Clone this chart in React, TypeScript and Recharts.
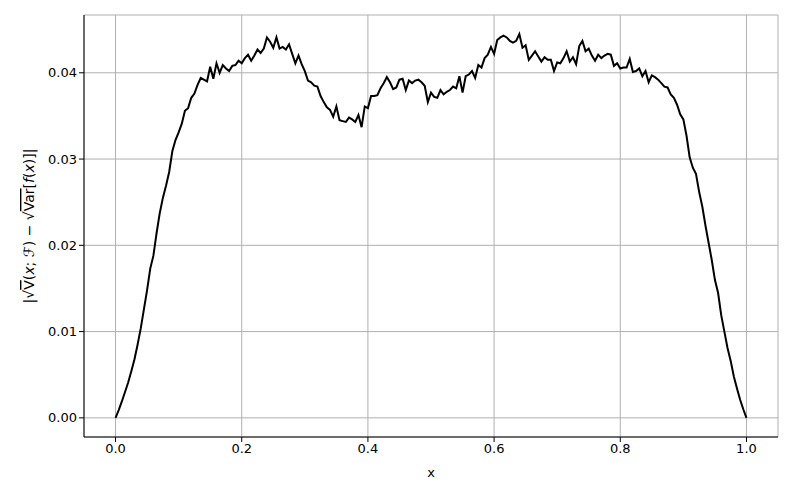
import React from "react";
import {
  LineChart,
  Line,
  XAxis,
  YAxis,
  CartesianGrid,
} from "recharts";

// x sampled every 0.005 from 0 to 1
const xValues: number[] = Array.from({ length: 201 }, (_, i) => +(i * 0.005).toFixed(3));

const gapValues: number[] = [
  0, 0.0009, 0.0019, 0.003, 0.0041, 0.0054, 0.0068, 0.0085, 0.0104, 0.0126,
  0.0148, 0.0173, 0.0188, 0.0214, 0.0237, 0.0255, 0.0269, 0.0285, 0.0309, 0.0322,
  0.0331, 0.0341, 0.0356, 0.0359, 0.0371, 0.0376, 0.0386, 0.0394, 0.0392, 0.039,
  0.0407, 0.0393, 0.0411, 0.04, 0.0409, 0.0405, 0.0402, 0.0408, 0.0409, 0.0414,
  0.0411, 0.0417, 0.0421, 0.0414, 0.042, 0.0427, 0.0423, 0.0428, 0.0441, 0.0436,
  0.0429, 0.0441, 0.0428, 0.043, 0.0427, 0.0433, 0.0422, 0.0411, 0.042, 0.041,
  0.0402, 0.0391, 0.0389, 0.0385, 0.0384, 0.0373, 0.0366, 0.036, 0.0357, 0.0349,
  0.0361, 0.0345, 0.0344, 0.0343, 0.0348, 0.0346, 0.0343, 0.0351, 0.0337, 0.0361,
  0.0359, 0.0373, 0.0373, 0.0374, 0.0382, 0.0388, 0.0395, 0.0389, 0.0381, 0.0383,
  0.0392, 0.0393, 0.038, 0.0391, 0.0388, 0.0391, 0.0392, 0.0389, 0.0385, 0.0366,
  0.0377, 0.0372, 0.0371, 0.038, 0.0375, 0.0378, 0.038, 0.0384, 0.0382, 0.0396,
  0.0377, 0.0396, 0.0398, 0.0402, 0.0394, 0.0409, 0.0406, 0.0417, 0.0421, 0.043,
  0.0422, 0.0438, 0.0441, 0.0443, 0.0441, 0.0437, 0.0435, 0.0437, 0.0445, 0.0429,
  0.0432, 0.0415, 0.042, 0.0425, 0.0419, 0.0413, 0.0418, 0.0415, 0.0415, 0.0402,
  0.0412, 0.0411, 0.0417, 0.0425, 0.0413, 0.0418, 0.041, 0.0431, 0.0437, 0.0425,
  0.0428, 0.042, 0.0414, 0.0421, 0.0417, 0.042, 0.0422, 0.0421, 0.0408, 0.0411,
  0.0405, 0.0406, 0.0406, 0.0416, 0.0401, 0.0402, 0.0405, 0.0396, 0.0402, 0.0389,
  0.0397, 0.0395, 0.0392, 0.0388, 0.0384, 0.0383, 0.0375, 0.0371, 0.0363, 0.0352,
  0.0346, 0.0327, 0.0302, 0.029, 0.0283, 0.0262, 0.0245, 0.0223, 0.0203, 0.0183,
  0.016, 0.0145, 0.0119, 0.01, 0.0081, 0.0066, 0.0048, 0.0034, 0.0021, 0.001,
  0,
];

const xTicks = [0, 0.2, 0.4, 0.6, 0.8, 1.0];
const yTicks = [0, 0.01, 0.02, 0.03, 0.04];

const data = xValues.map((x, i) => ({ x, gap: gapValues[i] }));

const FONT = "'DejaVu Sans', sans-serif";
const tickStyle = { fontFamily: FONT, fontSize: 13, fill: "#000" };

function YLabel() {
  return (
    <text
      x={30}
      y={226}
      transform="rotate(-90 30 226)"
      textAnchor="middle"
      dominantBaseline="middle"
      style={{ fontFamily: FONT, fontSize: 14, fill: "#000" }}
    >
      |√<tspan textDecoration="overline">V</tspan>(<tspan fontStyle="italic">x</tspan>; ℱ) − √
      <tspan textDecoration="overline">Var</tspan>[<tspan fontStyle="italic">f</tspan>(
      <tspan fontStyle="italic">x</tspan>)]|
    </text>
  );
}

export default function App() {
  return (
    <div style={{ position: "absolute", left: 0, top: 0, background: "#fff" }}>
      <LineChart
        width={793}
        height={496}
        data={data}
        margin={{ top: 15, right: 15, left: 0, bottom: 0 }}
      >
        <CartesianGrid stroke="#b0b0b0" strokeWidth={1} />
        <XAxis
          dataKey="x"
          type="number"
          domain={[-0.05, 1.05]}
          ticks={xTicks}
          tickFormatter={(v: number) => v.toFixed(1)}
          tick={tickStyle}
          tickSize={5}
          tickLine={{ stroke: "#000" }}
          axisLine={{ stroke: "#000" }}
          height={59}
          allowDataOverflow
          label={{
            value: "x",
            position: "insideBottom",
            offset: 19,
            style: { fontFamily: FONT, fontSize: 13, fill: "#000" },
          }}
        />
        <XAxis
          xAxisId="top"
          orientation="top"
          dataKey="x"
          type="number"
          domain={[-0.05, 1.05]}
          height={0}
          tick={false}
          tickLine={false}
          axisLine={{ stroke: "#000" }}
        />
        <YAxis
          type="number"
          domain={[-0.00222, 0.0467]}
          ticks={yTicks}
          tickFormatter={(v: number) => v.toFixed(2)}
          tick={tickStyle}
          tickSize={5}
          tickLine={{ stroke: "#000" }}
          axisLine={{ stroke: "#000" }}
          width={84}
          allowDataOverflow
        />
        <YAxis
          yAxisId="right"
          orientation="right"
          type="number"
          domain={[-0.00222, 0.0467]}
          width={0}
          tick={false}
          tickLine={false}
          axisLine={{ stroke: "#000" }}
        />
        <Line
          type="linear"
          dataKey="gap"
          stroke="#000"
          strokeWidth={2}
          dot={false}
          isAnimationActive={false}
        />
        <YLabel />
      </LineChart>
    </div>
  );
}
